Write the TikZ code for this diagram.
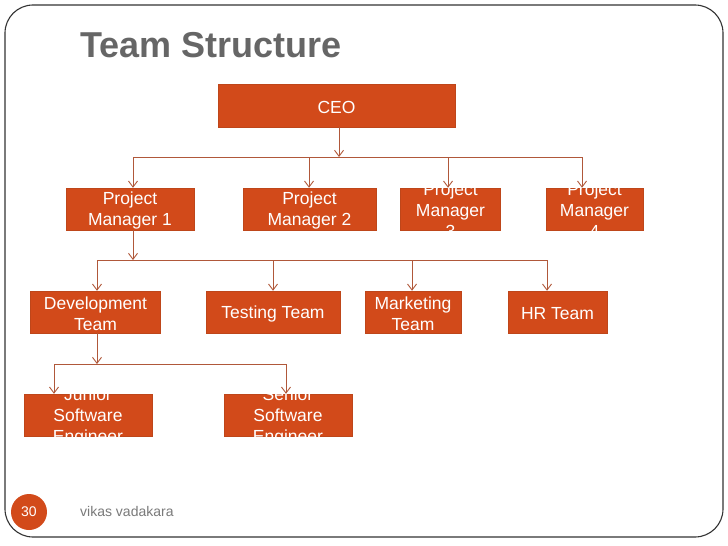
\documentclass[tikz,border=0pt]{standalone}
\usepackage{fontspec}
\setmainfont{Liberation Sans}
\usetikzlibrary{arrows.meta}
\definecolor{boxorange}{HTML}{D24A1A}
\definecolor{boxedge}{HTML}{BE461A}
\definecolor{connc}{HTML}{B0583A}
\definecolor{titlegray}{HTML}{666666}
\definecolor{footgray}{HTML}{7A7A7A}
\tikzset{
  orgbox/.style={fill=boxorange, draw=boxedge, line width=0.5pt, inner sep=0pt, minimum height=42pt},
  orgtext/.style={text=white, align=center, inner sep=0pt, yshift=-1.5pt, font=\fontsize{17.5}{21}\selectfont},
  conn/.style={draw=connc, line width=1pt},
  connarrow/.style={conn, -{Straight Barb[length=6pt,width=9pt,line width=0.9pt]}},
}
\begin{document}
\begin{tikzpicture}[x=1pt,y=-1pt]
\useasboundingbox (0,0) rectangle (728,546);
\fill[white] (0,0) rectangle (728,546);
% slide frame
\draw[line width=1.1pt, color=black!80, rounded corners=28pt] (5,5) rectangle (723,537);
% title
\node[anchor=base west, inner sep=0pt, text=titlegray, font=\fontsize{36}{40}\selectfont\bfseries] (title) at (80,57) {Team Structure};

% boxes
\node[orgbox, minimum width=237pt, minimum height=43pt] (ceo) at (336.5,105.5) {};
\node[orgbox, minimum width=128pt] (pm1) at (130,209) {};
\node[orgbox, minimum width=133pt] (pm2) at (309.5,209) {};
\node[orgbox, minimum width=100pt] (pm3) at (450.5,209) {};
\node[orgbox, minimum width=97pt] (pm4) at (594.5,209) {};
\node[orgbox, minimum width=130pt] (dev) at (95.5,312) {};
\node[orgbox, minimum width=134pt] (test) at (273,312) {};
\node[orgbox, minimum width=96pt] (mkt) at (413,312) {};
\node[orgbox, minimum width=99pt] (hr) at (557.5,312) {};
\node[orgbox, minimum width=128pt] (jr) at (88,415) {};
\node[orgbox, minimum width=128pt] (sr) at (288,415) {};

% texts (white; overflow disappears on the white slide)
\node[orgtext] (ceot) at (ceo) {CEO};
\node[orgtext] (pm1t) at (pm1) {Project\\Manager 1};
\node[orgtext] (pm2t) at (pm2) {Project\\Manager 2};
\node[orgtext] (pm3t) at (pm3) {Project\\Manager\\3};
\node[orgtext] (pm4t) at (pm4) {Project\\Manager\\4};
\node[orgtext] (devt) at (dev) {Development\\Team};
\node[orgtext] (testt) at (test) {Testing Team};
\node[orgtext] (mktt) at (mkt) {Marketing\\Team};
\node[orgtext] (hrt) at (hr) {HR Team};
\node[orgtext] (jrt) at (jr) {Junior\\Software\\Engineer};
\node[orgtext] (srt) at (sr) {Senior\\Software\\Engineer};

% connector points
\coordinate (j1) at (339,157);
\coordinate (a1) at (133,157);
\coordinate (a2) at (309,157);
\coordinate (a3) at (448,157);
\coordinate (a4) at (582,157);
\coordinate (s1) at (133,230);
\coordinate (j2) at (133,260);
\coordinate (b1) at (97,260);
\coordinate (b2) at (273,260);
\coordinate (b3) at (412,260);
\coordinate (b4) at (547,260);
\coordinate (s2) at (97,333);
\coordinate (j3) at (97,364);
\coordinate (c1) at (54,364);
\coordinate (c2) at (286,364);

% level 1
\draw[connarrow] (ceo.south -| j1) -- (j1);
\draw[conn] (a1) -- (a4);
\draw[connarrow] (a1) -- (a1 |- pm1.north);
\draw[connarrow] (a2) -- (a2 |- pm2.north);
\draw[connarrow] (a3) -- (a3 |- pm3.north);
\draw[connarrow] (a4) -- (a4 |- pm4.north);
% level 2
\draw[connarrow] (s1) -- (j2);
\draw[conn] (b1) -- (b4);
\draw[connarrow] (b1) -- (b1 |- dev.north);
\draw[connarrow] (b2) -- (b2 |- test.north);
\draw[connarrow] (b3) -- (b3 |- mkt.north);
\draw[connarrow] (b4) -- (b4 |- hr.north);
% level 3
\draw[connarrow] (s2) -- (j3);
\draw[conn] (c1) -- (c2);
\draw[connarrow] (c1) -- (c1 |- jr.north);
\draw[connarrow] (c2) -- (c2 |- sr.north);

% footer
\node[circle, fill=boxorange, minimum size=36pt, inner sep=0pt, text=white, font=\fontsize{14}{16}\selectfont] (pagenum) at (29,512) {30};
\node[anchor=base west, inner sep=0pt, text=footgray, font=\fontsize{14}{16}\selectfont] (author) at (80,516) {vikas vadakara};
\end{tikzpicture}
\end{document}
